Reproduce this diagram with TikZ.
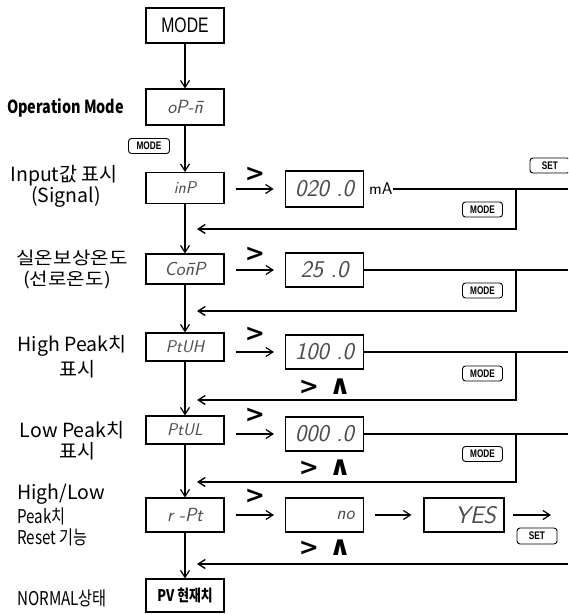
\documentclass[tikz,border=0pt]{standalone}
\usepackage{fontspec}
\usetikzlibrary{arrows.meta}
\setmainfont{Noto Sans CJK KR}
\newfontfamily\kr{Noto Sans CJK KR}
\newfontfamily\krw[FakeStretch=1.15]{Noto Sans CJK KR}
\newfontfamily\krc[FakeStretch=0.8]{Noto Sans CJK KR}
\newfontfamily\lsc[FakeStretch=0.75]{Liberation Sans}
\newfontfamily\btnf[FakeStretch=0.75]{Liberation Sans}
\newfontfamily\dvb{DejaVu Sans}
\begin{document}
\begin{tikzpicture}[x=1pt,y=-1pt,
  disp/.style={draw, line width=1.1pt, minimum width=78pt, inner sep=0pt,
    font=\sffamily\itshape\fontsize{19}{20}\selectfont, text=black!70},
  btn/.style={draw, line width=0.9pt, rounded corners=3pt, minimum width=40pt,
    minimum height=15pt, inner sep=0pt, font=\btnf\bfseries\fontsize{11}{12}\selectfont},
  lab/.style={inner sep=0pt, align=center, font=\kr\fontsize{19.5}{21}\selectfont},
  labw/.style={lab, anchor=west},
  ln/.style={line width=1.5pt},
  arr/.style={line width=1.2pt, -{Straight Barb[length=7pt,width=9pt]}},
  ret/.style={line width=1.4pt, -{Straight Barb[length=7pt,width=9pt]}},
  gt/.style={inner sep=0pt, font=\dvb\bfseries\fontsize{24}{24}\selectfont},
  wedge/.style={inner sep=0pt, font=\dvb\bfseries\fontsize{27}{27}\selectfont}
]
\clip (0,0) rectangle (568,615);
\fill[white] (0,0) rectangle (568,615);

% left column
\node[disp, minimum height=35pt, font=\lsc\fontsize{21}{22}\selectfont, text=black] (mode) at (185,25.5) {MODE};
\node[disp, minimum height=36pt] (op) at (185,107) {oP-\=n};
\node[disp, minimum height=31pt, font=\sffamily\itshape\fontsize{17}{18}\selectfont] (inp) at (185,188) {inP};
\node[disp, minimum height=30pt] (comp) at (185,269) {Co\=nP};
\node[disp, minimum height=28pt, font=\sffamily\itshape\fontsize{17}{18}\selectfont] (ptuh) at (185,347) {PtUH};
\node[disp, minimum height=28pt, font=\sffamily\itshape\fontsize{17}{18}\selectfont] (ptul) at (185,430) {PtUL};
\node[disp, minimum height=34pt] (rpt) at (185,515) {r -Pt};
\node[disp, minimum height=33pt, font=\krc\bfseries\fontsize{16}{18}\selectfont, text=black] (pv) at (185,595.5) {PV 현재치};

% right column
\node[disp, minimum height=36pt, line width=1.7pt, font=\sffamily\itshape\fontsize{24}{24}\selectfont] (v1) at (324.5,189) {020 .0};
\node[inner sep=0pt, anchor=west, font=\sffamily\fontsize{17}{18}\selectfont] (ma) at (369,189) {mA};
\node[disp, minimum height=34pt, font=\sffamily\itshape\fontsize{24}{24}\selectfont] (v2) at (324.5,270) {25 .0};
\node[disp, minimum height=34pt, font=\sffamily\itshape\fontsize{24}{24}\selectfont] (v3) at (324.5,352) {100 .0};
\node[disp, minimum height=34pt, font=\sffamily\itshape\fontsize{24}{24}\selectfont] (v4) at (324.5,434) {000 .0};
\node[disp, minimum height=34pt, text width=60pt, align=right] (no) at (324.5,515) {no};
\node[disp, minimum height=34pt, minimum width=80pt, text width=64pt, align=right, font=\sffamily\itshape\fontsize{24}{24}\selectfont] (yes) at (464,515) {YES};

% labels
\node[labw, font=\krc\bfseries\fontsize{18}{20}\selectfont] (l1) at (7,108) {Operation Mode};
\node[lab] (l2a) at (64,176) {Input값 표시};
\node[lab] (l2b) at (66,197) {(Signal)};
\node[lab, font=\krw\fontsize{17.5}{19}\selectfont] (l3a) at (72,258) {실온보상온도};
\node[lab, font=\krw\fontsize{17.5}{19}\selectfont] (l3b) at (67,280) {(선로온도)};
\node[lab] (l4a) at (72,346) {High Peak치};
\node[lab] (l4b) at (77,369) {표시};
\node[lab] (l5a) at (72,430) {Low Peak치};
\node[lab] (l5b) at (77,451) {표시};
\node[labw] (l6a) at (17,494) {High/Low};
\node[labw, font=\krc\fontsize{19}{20}\selectfont] (l6b) at (17,516) {Peak치};
\node[labw, font=\krc\fontsize{19}{20}\selectfont] (l6c) at (17,537) {Reset 기능};
\node[labw, font=\krc\fontsize{19}{20}\selectfont] (l7) at (17,598) {NORMAL상태};

% buttons
\node[btn, minimum width=41pt] (b0) at (149,146) {MODE};
\node[btn] (b1) at (482.5,209.5) {MODE};
\node[btn] (b2) at (482.5,290.5) {MODE};
\node[btn] (b3) at (482.5,373.5) {MODE};
\node[btn] (b4) at (482.5,454) {MODE};
\node[btn] (s1) at (550,165.5) {SET};
\node[btn, minimum height=16pt] (s2) at (537,536) {SET};

% vertical flow
\draw[arr] (mode) -- (op);
\draw[arr] (op) -- (inp);
\draw[arr] (inp) -- (comp);
\draw[arr] (comp) -- (ptuh);
\draw[arr] (ptuh) -- (ptul);
\draw[arr] (ptul) -- (rpt);
\draw[arr] (rpt) -- (pv);

% horizontal arrows (level with the right-hand box)
\coordinate (a1) at ([xshift=11pt]inp.east |- v1.west);
\coordinate (a2) at ([xshift=11pt]comp.east |- v2.west);
\coordinate (a3) at ([xshift=11pt]ptuh.east |- v3.west);
\coordinate (a4) at ([xshift=11pt]ptul.east |- v4.west);
\draw[arr] (a1) -- ([xshift=-11pt]v1.west);
\draw[arr] (a2) -- ([xshift=-11pt]v2.west);
\draw[arr] (a3) -- ([xshift=-11pt]v3.west);
\draw[arr] (a4) -- ([xshift=-11pt]v4.west);
\draw[arr] ([xshift=11pt]rpt.east) -- ([xshift=-11pt]no.west);
\draw[arr] ([xshift=11pt]no.east) -- ([xshift=-12pt]yes.west);
\coordinate (e6) at (551,515);
\draw[arr] ([xshift=8pt]yes.east) -- (e6);

% ">" marks
\node[gt] (g1) at (255,174) {>};
\node[gt] (g2) at (255,254) {>};
\node[gt] (g3) at (255,334) {>};
\node[gt] (g4) at (255,415) {>};
\node[gt] (g5) at (255,496) {>};
\node[gt] (h3a) at (309,387) {>};
\node[wedge] (h3b) at (340,387) {∧};
\node[gt] (h4a) at (309,468) {>};
\node[wedge] (h4b) at (340,468) {∧};
\node[gt] (h5a) at (309,548) {>};
\node[wedge] (h5b) at (340,548) {∧};

% return paths
\coordinate (e1) at (568,189); \coordinate (j1) at (516,189); \coordinate (t1) at (197,229);
\coordinate (e2) at (568,270); \coordinate (j2) at (516,270); \coordinate (t2) at (197,311);
\coordinate (e3) at (568,352); \coordinate (j3) at (516,352); \coordinate (t3) at (197,400);
\coordinate (e4) at (568,434); \coordinate (j4) at (516,434); \coordinate (t4) at (197,482);
\coordinate (e5) at (568,564); \coordinate (t5) at (197,564);
\draw[ln] (ma.east) -- (e1);
\draw[ret] (j1) |- (t1);
\draw[ln] (v2.east) -- (e2);
\draw[ret] (j2) |- (t2);
\draw[ln] (v3.east) -- (e3);
\draw[ret] (j3) |- (t3);
\draw[ln] (v4.east) -- (e4);
\draw[ret] (j4) |- (t4);
\draw[ret] (e5) -- (t5);
\end{tikzpicture}
\end{document}
